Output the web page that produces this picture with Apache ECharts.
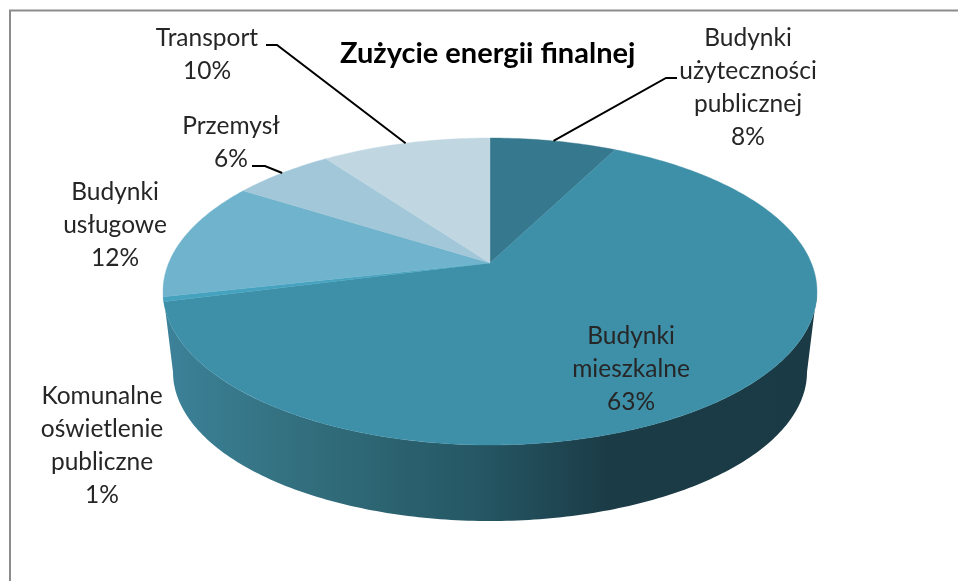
<!DOCTYPE html>
<html>
<head>
<meta charset="utf-8">
<title>Zużycie energii finalnej</title>
<style>
  html, body { margin: 0; padding: 0; background: #fff; }
  #chart { width: 958px; height: 581px; }
</style>
<script src="https://cdn.jsdelivr.net/npm/echarts@6/dist/echarts.min.js"></script>
</head>
<body>
<div id="chart"></div>
<script>
const chart = echarts.init(document.getElementById('chart'))

// dane, zgodnie z ruchem wskazowek zegara od gory
const categories = [
  'Budynki\nużyteczności\npublicznej',
  'Budynki\nmieszkalne',
  'Komunalne\noświetlenie\npubliczne',
  'Budynki\nusługowe',
  'Przemysł',
  'Transport',
]
const values = [7.5, 63.5, 0.5, 12.5, 6, 10]
const percentLabels = ['8%', '63%', '1%', '12%', '6%', '10%']

const sliceColors = ['#36788e', '#3e8fa8', '#46a3bf', '#6fb3cc', '#a1c7d8', '#c0d7e2']
const fontFamily = 'Lato, "Noto Sans", sans-serif'

// pozycje etykiet (srodek bloku tekstu) i punkt zalamania linii odniesienia
const labelLayout = [
  { x: 748, y: 88, line: [[677, 78], [666, 78]] },
  { x: 631, y: 369 },
  { x: 102, y: 446 },
  { x: 115, y: 225 },
  { x: 231, y: 143, line: [[252, 166], [265, 166]] },
  { x: 207, y: 55, line: [[266, 45], [277, 45]] },
]

// rzut perspektywiczny kola (gorna powierzchnia)
const apex = [490, 263]
const persp = 0.1857
const scaleX = 321.3
const scaleY = 148.2
// dolna krawedz sciany bocznej
const bottomRim = { cx: 490, cy: 372, rx: 317, ry: 149 }

const total = values.reduce((a, b) => a + b, 0)

function rimPoint(share) {
  const theta = share * 2 * Math.PI
  const u = Math.sin(theta)
  const v = Math.cos(theta)
  const d = 1 + persp * v
  return [apex[0] + (scaleX * u) / d, apex[1] - (scaleY * v) / d]
}

function startShare(index) {
  let sum = 0
  for (let i = 0; i < index; i++) sum += values[i]
  return sum / total
}

// gorna krawedz od lewej do prawej przez przod, potem dolna z powrotem
function wallPoints() {
  const pts = []
  const topCy = (rimPoint(0)[1] + rimPoint(0.5)[1]) / 2
  const topRy = (rimPoint(0.5)[1] - rimPoint(0)[1]) / 2
  const topRx = scaleX / Math.sqrt(1 - persp * persp)
  for (let a = 0; a <= 180; a += 1) {
    const r = (a * Math.PI) / 180
    pts.push([apex[0] - topRx * Math.cos(r), topCy + topRy * Math.sin(r)])
  }
  for (let a = 180; a >= 0; a -= 1) {
    const r = (a * Math.PI) / 180
    pts.push([
      bottomRim.cx - bottomRim.rx * Math.cos(r),
      bottomRim.cy + bottomRim.ry * Math.sin(r),
    ])
  }
  return pts
}

const wallFill = new echarts.graphic.LinearGradient(
  163, 0, 817, 0,
  [
    { offset: 0, color: '#3c8299' },
    { offset: 0.2, color: '#33707f' },
    { offset: 0.48, color: '#255764' },
    { offset: 0.68, color: '#1b3c47' },
    { offset: 1, color: '#1a3a45' },
  ],
  true
)

const option = {
  animation: false,
  backgroundColor: '#fff',
  title: {
    text: 'Zużycie energii finalnej',
    left: 340,
    top: 39,
    padding: 0,
    textStyle: { fontFamily, fontSize: 29, fontWeight: 'bold', color: '#000' },
  },
  graphic: [
    {
      type: 'polyline',
      silent: true,
      shape: { points: [[10, 581], [10, 10.5], [958, 10.5]] },
      style: { stroke: '#8c8c8c', lineWidth: 2, fill: null },
    },
  ],
  series: [
    {
      // sciana boczna
      type: 'custom',
      coordinateSystem: 'none',
      silent: true,
      z: 1,
      data: [0],
      renderItem: () => ({
        type: 'polygon',
        shape: { points: wallPoints() },
        style: { fill: wallFill },
      }),
    },
    {
      // wycinki
      type: 'custom',
      coordinateSystem: 'none',
      silent: true,
      z: 2,
      data: values,
      renderItem: (params, api) => {
        const from = startShare(params.dataIndex)
        const to = from + api.value(0) / total
        const pts = [apex.slice()]
        const steps = Math.max(2, Math.ceil((to - from) * 360))
        for (let i = 0; i <= steps; i++) {
          pts.push(rimPoint(from + ((to - from) * i) / steps))
        }
        const color = sliceColors[params.dataIndex]
        return {
          type: 'polygon',
          shape: { points: pts },
          style: { fill: color, stroke: color, lineWidth: 0.4 },
        }
      },
    },
    {
      // etykiety i linie odniesienia
      type: 'custom',
      coordinateSystem: 'none',
      silent: true,
      z: 3,
      data: values,
      renderItem: (params, api) => {
        const i = params.dataIndex
        const layout = labelLayout[i]
        const children = [
          {
            type: 'text',
            style: {
              text: categories[i] + '\n' + percentLabels[i],
              x: layout.x,
              y: layout.y,
              align: 'center',
              verticalAlign: 'middle',
              fontFamily,
              fontSize: 24.5,
              lineHeight: 33,
              fill: '#262626',
            },
          },
        ]
        if (layout.line) {
          const mid = startShare(i) + api.value(0) / total / 2
          children.push({
            type: 'polyline',
            shape: { points: layout.line.concat([rimPoint(mid)]) },
            style: { stroke: '#000', lineWidth: 2, fill: null },
          })
        }
        return { type: 'group', children }
      },
    },
  ],
}

chart.setOption(option)
</script>
</body>
</html>
